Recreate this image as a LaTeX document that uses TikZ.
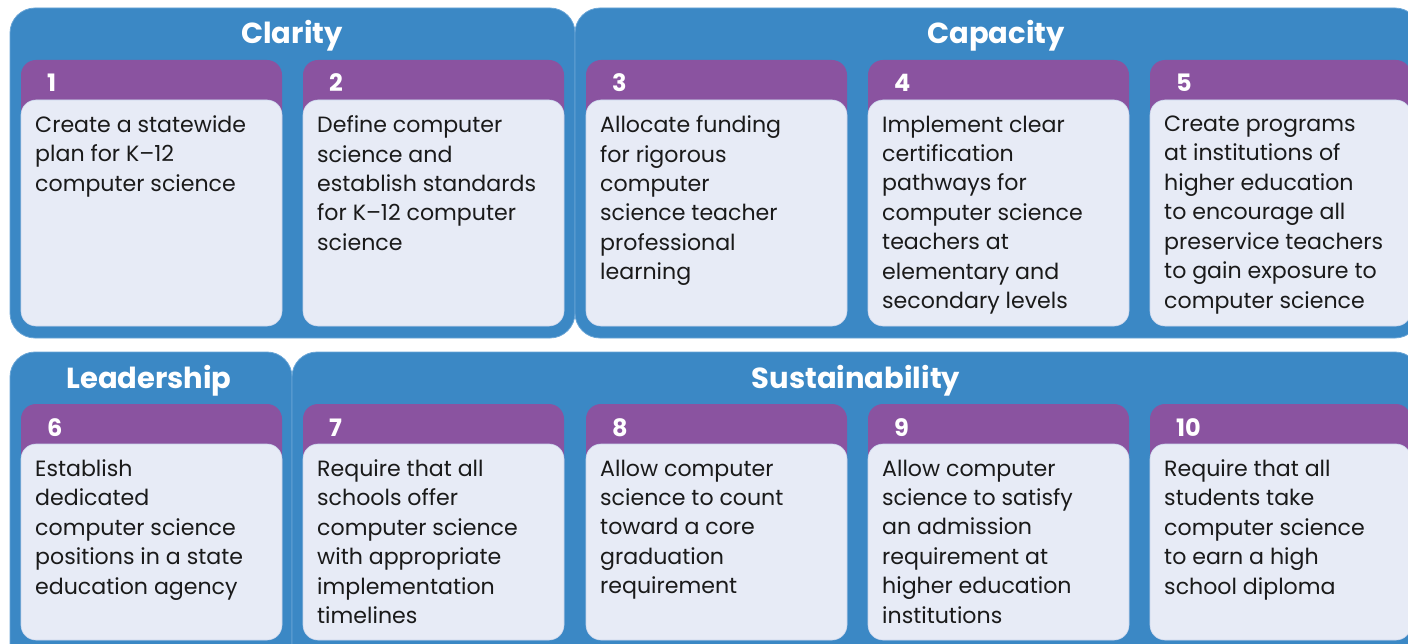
\documentclass[tikz,border=0pt]{standalone}
\usepackage{fontspec}
\setmainfont{Poppins}
\definecolor{panelblue}{HTML}{3B88C5}
\definecolor{panelline}{HTML}{6AA5D6}
\definecolor{hdrpurple}{HTML}{8A53A0}
\definecolor{cardfill}{HTML}{E7EBF6}
\definecolor{cardline}{HTML}{C9D5EC}
\definecolor{bodytext}{HTML}{1A1A1A}
\tikzset{
  panel/.style={fill=panelblue,draw=panelline,line width=0.8pt,rounded corners=25pt},
  hdrbox/.style={fill=hdrpurple,rounded corners=15pt},
  cardbox/.style={fill=cardfill,draw=cardline,line width=0.6pt,rounded corners=15pt},
  paneltitle/.style={text=white,font=\fontsize{29}{34}\selectfont\bfseries,inner sep=0pt,anchor=base},
  numlabel/.style={text=white,font=\fontsize{24}{28}\selectfont\bfseries,inner sep=0pt,anchor=base west},
  bodylabel/.style={text=bodytext,font=\fontsize{22.1}{29.45}\selectfont,inner sep=0pt,anchor=north west,align=left},
}
\newcommand\mycard[6]{% name, x, top, bottom, number, text
  \fill[hdrbox] (#2,#3) rectangle ++(261,80);
  \path[cardbox] (#2,#3+40) rectangle (#2+261,#4);
  \node[numlabel] (#1num) at (#2+26,#3+32) {#5};
  \node[bodylabel] (#1) at (#2+14,#3+55.5) {#6};
}
\begin{document}
\begin{tikzpicture}[x=1pt,y=-1pt]
\useasboundingbox (0,0) rectangle (1408,644);
\clip (0,0) rectangle (1408,644);
% panels
\path[panel] (10,8) rectangle (575,338);
\path[panel] (575,8) rectangle (1420,338);
\path[panel] (10,352) rectangle (292,700);
\path[panel] (292,352) rectangle (1420,700);
% titles
\node[paneltitle] (clarity) at (292,44) {Clarity};
\node[paneltitle] (capacity) at (996,44) {Capacity};
\node[paneltitle] (leadership) at (149,388) {Leadership};
\node[paneltitle] (sustain) at (856,388) {Sustainability};
% row 1
\mycard{c1}{21}{60}{326}{1}{Create a statewide\\plan for K–12\\computer science}
\mycard{c2}{303}{60}{326}{2}{Define computer\\science and\\establish standards\\for K–12 computer\\science}
\mycard{c3}{586}{60}{326}{3}{Allocate funding\\for rigorous\\computer\\science teacher\\professional\\learning}
\mycard{c4}{868}{60}{326}{4}{Implement clear\\certification\\pathways for\\computer science\\teachers at\\elementary and\\secondary levels}
\mycard{c5}{1150}{60}{326}{5}{Create programs\\at institutions of\\higher education\\to encourage all\\preservice teachers\\to gain exposure to\\computer science}
% row 2
\mycard{c6}{21}{404}{640}{6}{Establish\\dedicated\\computer science\\positions in a state\\education agency}
\mycard{c7}{303}{404}{640}{7}{Require that all\\schools offer\\computer science\\with appropriate\\implementation\\timelines}
\mycard{c8}{586}{404}{640}{8}{Allow computer\\science to count\\toward a core\\graduation\\requirement}
\mycard{c9}{868}{404}{640}{9}{Allow computer\\science to satisfy\\an admission\\requirement at\\higher education\\institutions}
\mycard{c10}{1150}{404}{640}{10}{Require that all\\students take\\computer science\\to earn a high\\school diploma}
\end{tikzpicture}
\end{document}
